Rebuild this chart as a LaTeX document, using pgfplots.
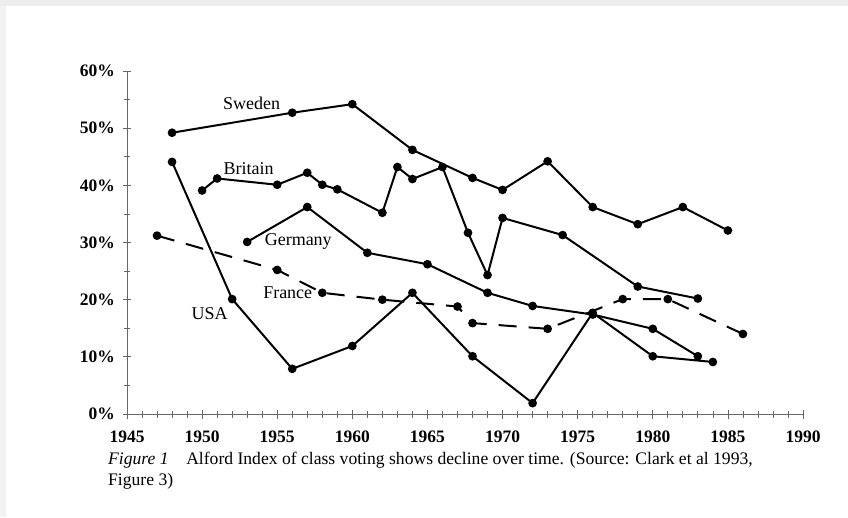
\documentclass[border=0pt]{standalone}
\usepackage{fontspec}
\setmainfont{Liberation Serif}
\usepackage{pgfplots}
\pgfplotsset{compat=1.18}

\pgfplotsset{
  country/.style={black, line width=2pt, mark=*, mark size=3.3pt, mark options={solid}},
}

\begin{document}
\begin{tikzpicture}
\useasboundingbox (0,0) rectangle (848pt,517pt);
\fill[white] (0,0) rectangle (848pt,517pt);
% screenshot frame
\fill[black!7] (0,511pt) rectangle (848pt,517pt);
\fill[black!5] (0,0) rectangle (6pt,511pt);

\begin{axis}[
    at={(127pt,103pt)}, anchor=south west,
    scale only axis,
    width=676pt, height=343pt,
    xmin=1945, xmax=1990,
    ymin=0, ymax=60,
    axis x line=bottom, axis y line=left,
    axis line style={-, black!60, line width=0.8pt},
    xtick={1945,1950,...,1990},
    ytick={0,10,...,60},
    minor x tick num=4,
    minor y tick num=1,
    tick align=center,
    major tick length=9pt,
    minor tick length=7pt,
    tick style={black!60, line width=0.7pt},
    /pgf/number format/assume math mode=true,
    /pgf/number format/1000 sep={},
    tick label style={font=\bfseries\fontsize{17.5}{17.5}\selectfont},
    xticklabel style={yshift=-9pt},
    yticklabel style={xshift=-4pt},
    yticklabel={\pgfmathprintnumber{\tick}\%},
    clip=false,
]
% Sweden
\addplot[country] coordinates {
  (1948,49.2) (1956,52.7) (1960,54.2) (1964,46.2) (1968,41.3) (1970,39.2)
  (1973,44.2) (1976,36.2) (1979,33.2) (1982,36.2) (1985,32.1)};
% Britain
\addplot[country] coordinates {
  (1950,39.1) (1951,41.2) (1955,40.1) (1957,42.2) (1958,40.1) (1959,39.3)
  (1962,35.2) (1963,43.2) (1964,41.1) (1966,43.2) (1967.7,31.7) (1969,24.3)
  (1970,34.3) (1974,31.3) (1979,22.3) (1983,20.2)};
% Germany
\addplot[country] coordinates {
  (1953,30.1) (1957,36.2) (1961,28.2) (1965,26.2) (1969,21.2) (1972,18.9)
  (1976,17.4) (1980,14.9) (1983,10.1)};
% USA
\addplot[country] coordinates {
  (1948,44.1) (1952,20.1) (1956,7.9) (1960,11.9) (1964,21.2) (1968,10.1)
  (1972,1.9) (1976,17.7) (1980,10.1) (1984,9.1)};
% France
\addplot[country, dash pattern=on 18pt off 12pt] coordinates {
  (1947,31.2) (1955,25.2) (1958,21.2) (1962,20.0) (1967,18.8) (1968,15.9)
  (1973,14.9) (1978,20.1) (1981,20.1) (1986,14.0)};

\begin{scope}[every node/.style={font=\fontsize{18}{18}\selectfont, fill=white, inner sep=1pt}]
\node at (axis cs:1953.3,54.4) {Sweden};
\node at (axis cs:1953.1,43.0) {Britain};
\node at (axis cs:1956.4,30.1) {Germany};
\node[fill=none] at (axis cs:1955.7,21.2) {France};
\node[fill=none] at (axis cs:1950.5,17.5) {USA};
\end{scope}
\end{axis}

\node[anchor=north west, align=left, inner sep=0pt,
      font=\fontsize{17.6}{21}\selectfont] at (108pt,65pt)
  {\textit{Figure 1}\hspace{1em}Alford Index of class voting shows decline over time. (Source: Clark et al 1993,\\
   Figure 3)};
\end{tikzpicture}
\end{document}
